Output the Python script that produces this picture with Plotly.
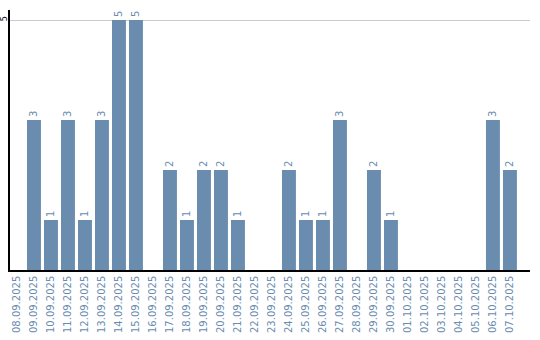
import plotly.graph_objects as go

dates = ["08.09.2025", "09.09.2025", "10.09.2025", "11.09.2025", "12.09.2025",
         "13.09.2025", "14.09.2025", "15.09.2025", "16.09.2025", "17.09.2025",
         "18.09.2025", "19.09.2025", "20.09.2025", "21.09.2025", "22.09.2025",
         "23.09.2025", "24.09.2025", "25.09.2025", "26.09.2025", "27.09.2025",
         "28.09.2025", "29.09.2025", "30.09.2025", "01.10.2025", "02.10.2025",
         "03.10.2025", "04.10.2025", "05.10.2025", "06.10.2025", "07.10.2025"]
counts = [0, 3, 1, 3, 1, 3, 5, 5, 0, 2,
          1, 2, 2, 1, 0, 0, 2, 1, 1, 3,
          0, 2, 1, 0, 0, 0, 0, 0, 3, 2]
y_ticks = [5]

bar_color = "#6a8caf"
labels = [str(v) if v > 0 else "" for v in counts]

fig = go.Figure(go.Bar(
    x=dates, y=counts, text=labels,
    textposition="outside", textangle=-90, constraintext="none",
    textfont=dict(family="DejaVu Sans", size=10, color=bar_color),
    marker=dict(color=bar_color, line=dict(width=0)),
    cliponaxis=False, hoverinfo="x+y",
))
fig.update_layout(
    width=540, height=340,
    margin=dict(l=10, r=10, t=10, b=70),
    plot_bgcolor="white", paper_bgcolor="white",
    bargap=0.18, showlegend=False,
    xaxis=dict(type="category", range=[-0.41, 30.18], tickangle=-90,
               automargin=False,
               showline=True, linecolor="black", linewidth=1.5,
               showgrid=False, ticks="", ticklen=0,
               tickfont=dict(family="DejaVu Sans", size=10, color=bar_color)),
    yaxis=dict(range=[0, 5.2], tickvals=y_ticks, tickangle=-90,
               automargin=False, ticklabelstandoff=-2,
               showline=True, linecolor="black", linewidth=1.5,
               showgrid=True, gridcolor="#cccccc", gridwidth=1,
               zeroline=False, ticks="",
               tickfont=dict(family="DejaVu Sans", size=8, color="black")),
)
fig.write_html("out.html")
